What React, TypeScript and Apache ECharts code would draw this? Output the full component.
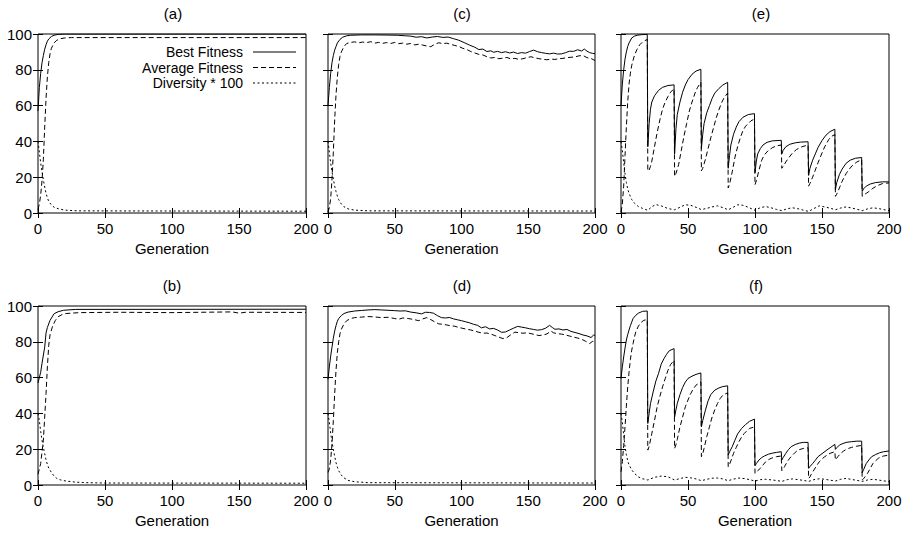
import React, { useEffect, useRef } from "react";
import * as echarts from "echarts";

// ---------- data (generation, value) ----------
const aBest = [[0,57],[1,70],[2,78],[3,84],[4,88],[5,91.5],[6,94],[7,96],[8,97.2],[10,98.6],[12,99.3],[15,99.8],[20,100],[200,100]];
const aAvg = [[0,2],[1,5],[2,10],[3,18],[4,30],[5,48],[6,64],[7,76],[8,84],[9,89],[10,92],[12,95],[14,96.5],[17,97.4],[20,97.8],[25,98],[200,98]];
const aDiv = [[0,40],[1,34],[2,28],[3,23],[4,18.5],[5,14.5],[6,11],[7,8.5],[8,6.5],[10,4.5],[12,3.2],[15,2.4],[20,1.6],[30,1.2],[200,1]];

const bBest = [[0,57],[2,63],[3,68],[5,77],[6,85],[7,88],[9,92],[12,95.7],[15,96.8],[19,97.6],[28,98.1],[200,98.2]];
const bAvg = [[0,6],[2,12],[4,25],[5,38],[6,51],[7,66],[8,78],[9,84],[11,89],[13,92],[15,94],[18,95.2],[21,95.8],[31,96.3],[60,96.5],[100,96.3],[145,96.7],[150,96],[155,96.5],[200,96.4]];
const bDiv = [[0,40],[1,36],[2,30],[3,25],[4,21],[5,17.5],[6,14],[7,11.5],[8,9.5],[10,7],[12,5],[14,3.7],[17,2.8],[21,2.2],[28,1.6],[36,1.3],[50,1.1],[200,1]];

const cBest = [[0,60],[1,70],[2,78],[3,84],[4,88],[5,91],[6,93],[7,95],[9,97],[11,98.2],[14,99],[17,99.3],[25,99.5],[35,99.5],[45,99.4],[52,99.3],[58,99],[62,98.8],[66,98.2],[70,98.5],[74,97.8],[78,98.3],[82,98.6],[86,98.1],[90,98.3],[94,97.4],[98,96.5],[102,95.2],[106,93.8],[110,92.6],[113,91.3],[116,91.6],[119,90.2],[122,90.6],[124,89.8],[127,90.3],[130,89.6],[133,90.1],[136,89.4],[139,89.9],[142,89.1],[145,89.6],[148,89.3],[151,90.2],[154,91],[157,90.1],[160,89.6],[163,89.2],[166,88.9],[169,89.3],[172,88.8],[175,88.9],[178,89.6],[181,90.4],[184,90.3],[187,91.2],[190,90.5],[192,91.6],[194,90.4],[196,89.6],[198,89.2],[200,89]];
const cAvg = [[0,0.5],[1,3],[2,8],[3,19],[4,34],[5,52],[6,66],[7,76],[8,83],[9,87.5],[10,90],[12,93],[14,94.7],[17,95.3],[20,95.6],[23,95.1],[26,95.5],[29,95.2],[32,95.7],[35,94.9],[38,95.3],[41,94.8],[44,95.2],[47,94.7],[50,95.3],[53,94.6],[56,94.9],[59,94.3],[62,94.7],[65,93.9],[68,94.3],[71,93.8],[74,93.3],[77,92.9],[80,94.3],[83,95.1],[86,94.6],[89,94.9],[92,94.2],[95,93.6],[98,93],[101,92],[104,91.3],[107,90.2],[110,89.4],[113,88.6],[116,88.3],[119,87.3],[122,86.6],[125,86.9],[128,86.2],[131,86.5],[134,86.9],[137,86.1],[140,86.4],[143,85.8],[146,86.2],[149,86.8],[152,87.3],[155,86.7],[158,86.2],[161,85.9],[164,85.6],[167,86],[170,85.8],[173,86.2],[176,86.4],[179,86.8],[182,87],[185,87.2],[188,87.8],[191,88],[194,86.8],[197,86.3],[200,85.2]];
const cDiv = [[0,40],[1,34],[2,28],[3,23],[4,19],[5,15],[6,12],[7,9.5],[8,7.5],[10,5],[12,3.5],[15,2.3],[20,1.6],[30,1.2],[200,1.1]];

const dBest = [[0,59],[1,66],[2,72],[3,77],[4,82],[5,86],[6,89],[7,91.5],[8,93],[10,94.7],[12,95.8],[15,96.6],[20,97.2],[25,97.5],[30,97.8],[35,98],[40,97.8],[45,97.6],[50,97.4],[54,97.2],[58,97.3],[62,96.6],[66,96.2],[70,95.6],[73,96.5],[76,96.4],[79,96],[82,94.6],[85,93.5],[88,93.3],[91,93.6],[94,92.8],[97,92.3],[100,91.8],[103,91.2],[106,90.6],[109,89.8],[112,89.2],[115,87.8],[118,88.4],[121,87.2],[124,87.5],[127,86.6],[130,85.3],[133,85.5],[136,86.6],[139,87.6],[142,88.6],[145,88.2],[148,87.8],[151,87.3],[154,86.9],[157,86.5],[160,86.8],[163,87.6],[166,89.2],[168,88],[170,87],[173,87.2],[176,86.6],[179,86.9],[182,85.8],[185,85.2],[188,84.6],[191,83.8],[194,83.3],[197,82.4],[199,83.8],[200,83.5]];
const dAvg = [[0,7],[1,9],[2,14],[3,23],[4,36],[5,51],[6,64],[7,74],[8,80],[9,84.5],[10,87],[12,90],[14,91.8],[17,93],[20,93.5],[25,93.8],[30,94.1],[35,93.9],[40,93.5],[45,93.7],[50,93],[53,92.6],[56,93.3],[60,93],[64,92.5],[68,91.8],[71,92.8],[74,93.5],[77,92.4],[80,91.1],[83,90],[86,89.8],[89,89.4],[92,88.9],[95,88.7],[98,88],[101,87.5],[104,87],[107,86.6],[110,86],[113,85.3],[116,84.8],[119,84.9],[122,84.3],[125,83.5],[128,82.6],[131,81.8],[134,82.3],[137,84],[140,85.4],[143,85.1],[146,84.8],[149,85],[152,84.6],[155,84],[158,83.5],[161,83.8],[164,84.4],[167,86],[169,85],[172,84.5],[175,84.3],[178,83.8],[181,83.2],[184,82.6],[187,82.1],[190,81.4],[193,80.3],[196,79],[198,80.2],[200,80]];
const dDiv = [[0,40],[1,35],[2,29],[3,24],[4,20],[5,16],[6,12.5],[7,10],[8,8],[10,5.5],[12,4],[15,2.6],[20,1.8],[30,1.3],[200,1.1]];

const eBest = [[0,60],[1,72],[2,80],[3,86],[4,90],[5,93],[6,95],[8,97.8],[10,98.8],[12,99.3],[15,99.6],[19.6,99.8],[20,37],[21,50],[22,58],[23,62],[25,65.5],[28,68.5],[31,70.2],[35,71.2],[39.6,71.6],[40,33],[41,47],[42,55],[44,62],[46,67.5],[48,71.5],[50,74.5],[53,77.5],[56,79.3],[59.6,80.3],[60,36],[61,44],[62,50],[64,56],[66,60],[68,64],[70,67],[73,69.5],[76,71.5],[79.6,73],[80,25],[81,32],[82,38],[84,44],[86,48],[88,51],[91,53.5],[95,55],[99.6,55.5],[100,22.5],[101,29],[102,33],[104,36],[106,38],[109,39.5],[113,40.3],[119.6,40.6],[120,33],[121,35],[123,37],[126,38.4],[130,39.2],[134,39.6],[139.6,39.8],[140,21],[141,25],[143,29.5],[145,33],[147,36.5],[150,40.5],[153,43.5],[156,45.5],[159.6,46.8],[160,13],[161,17],[163,21.5],[165,24.5],[168,27.8],[171,29.5],[175,30.6],[179.6,31],[180,12],[181,13.5],[183,15],[186,16.2],[190,17],[195,17.4],[200,17.4]];
const eAvg = [[0,0.5],[1,5],[2,15],[3,32],[4,48],[5,62],[6,72],[7,78],[8,82.5],[10,88],[12,91.5],[14,94],[16,95.5],[19.6,97],[20,23.5],[21,24],[22,26],[23,29],[25,37],[27,45],[29,52],[31,58],[33,62],[35,65],[37,67.5],[39.6,69.5],[40,20.5],[41,22],[43,27],[45,35],[47,43],[49,50],[51,57],[53,62],[55,66.5],[57,70],[59.6,73],[60,23.5],[61,25],[63,30],[65,36],[67,42],[69,47.5],[71,53],[73,57.5],[75,61.5],[77,64.5],[79.6,67],[80,14],[81,16],[83,23],[85,31],[87,37],[89,42],[91,46],[93,48.5],[95,50],[97,51.5],[99.6,52.5],[100,15.8],[101,18],[103,24],[105,29.5],[107,32.5],[110,35],[113,36.5],[116,37.5],[119.6,38],[120,25],[121,26],[123,28.5],[125,30.7],[128,33.5],[131,35.5],[135,37],[139.6,38],[140,15],[141,16.5],[143,20],[145,24],[147,28],[150,33.5],[152,37],[155,41],[157,42.8],[159.6,43.8],[160,9.3],[161,10.5],[163,14],[165,17.7],[168,22],[170,24.2],[173,26.8],[176,28.5],[179.6,29.8],[180,9.3],[181,10],[183,11],[185,12],[188,13.8],[191,15.2],[195,16.4],[200,16.8]];
const eDiv = [[0,40],[1,35],[2,28],[3,22],[4,17],[5,13.5],[6,11],[8,7.5],[10,5.5],[13,3.6],[16,2.6],[20,1.5],[23,3.5],[26,4.7],[30,4],[35,2.5],[40,1.8],[44,3.2],[48,4.6],[52,4.3],[56,3.2],[60,1.9],[64,2.6],[68,3.4],[72,4],[76,3],[80,1.8],[84,3.3],[87,4.6],[91,4.3],[95,3.2],[100,1.5],[104,3],[108,3.6],[112,2.9],[116,2],[120,1.3],[124,2.4],[128,2.9],[132,2.4],[136,1.6],[140,0.9],[144,2.5],[148,4],[152,3.4],[156,2.7],[160,1.8],[164,2.8],[168,3.4],[172,2.8],[176,2.1],[180,1.3],[184,2.3],[188,2.9],[192,2.5],[196,1.9],[200,1.3]];

const fBest = [[0,59.5],[1,66],[2,71.5],[3,76.5],[4,81],[5,84],[6,86.6],[7,89],[8,91],[9,93],[11,94.8],[13,96],[16,97],[19.6,97.2],[20,34.4],[21,40],[22,45.5],[24,52],[26,58],[28,62.3],[30,67.5],[32,70.5],[34,73],[36,75],[39.6,76.2],[40,38],[41,42],[42,45.5],[44,50.5],[46,54.5],[48,57.5],[50,59.5],[53,60.8],[56,61.8],[59.6,62.6],[60,32.5],[61,36],[63,41.8],[65,47],[67,50.5],[70,53],[73,54.2],[76,55],[79.6,55.4],[80,16.7],[81,18.5],[83,21.4],[85,25],[87,28.5],[90,31.6],[93,33.8],[96,35.6],[99.6,36.8],[100,10.8],[101,12],[103,14],[105,15.3],[107,16.2],[110,17.2],[113,17.8],[116,18.2],[119.6,18.6],[120,14],[121,15.3],[123,17.7],[125,19.8],[127,21.4],[130,22.6],[133,23.4],[136,23.8],[139.6,23.8],[140,9.3],[141,10.3],[143,12],[145,13.8],[147,15.8],[150,17.5],[153,19.2],[156,20.8],[159.6,22.7],[160,19.9],[161,20.8],[163,22.3],[165,23],[168,23.8],[172,24.2],[176,24.5],[179.6,24.5],[180,6.9],[181,8.5],[183,12],[185,14],[187,15.8],[190,17],[193,18],[196,18.6],[200,19]];
const fAvg = [[0,7.4],[1,13],[2,22],[3,32.5],[4,44],[5,54.8],[6,63],[7,70],[8,75.3],[9,79],[10,82.5],[11,85.5],[13,88.8],[15,90.8],[17,92],[19.6,92.4],[20,19.5],[21,21.5],[23,28.8],[25,36],[27,43.7],[29,49.5],[31,54.8],[33,59.5],[35,64],[37,67.3],[39.6,69.7],[40,20.4],[41,22.5],[42,25.5],[44,32.5],[46,38],[48,43.7],[50,47.5],[52,51],[54,53.8],[56,55.8],[59.6,57.6],[60,15.8],[61,17.5],[62,20.5],[64,27],[66,32.5],[68,38],[70,42],[72,45.5],[74,48.3],[76,50.2],[79.6,51.5],[80,10.2],[81,11.5],[82,13.5],[84,17.7],[86,21],[88,24.2],[90,26.8],[92,28.8],[94,30.3],[96,31.6],[99.6,32.5],[100,6.5],[101,7.2],[102,8],[104,9.3],[106,11.2],[108,13],[110,14.1],[112,14.9],[116,15.8],[119.6,16.2],[120,8],[121,8.8],[122,10.2],[124,13],[126,15],[128,16.7],[130,18.2],[132,19.5],[136,20.4],[139.6,20.8],[140,3.7],[141,4.5],[142,6],[144,8.4],[146,10.8],[148,13],[150,14.5],[152,15.8],[154,16.8],[156,17.7],[159.6,18.6],[160,14],[161,15],[162,16],[164,17.7],[166,18.9],[168,19.9],[170,20.5],[172,21],[176,21.7],[179.6,22.1],[180,2.8],[181,3.5],[182,4.5],[184,6.5],[186,9.3],[188,12],[190,13.5],[192,14.9],[194,15.7],[196,16.2],[200,16.7]];
const fDiv = [[0,40],[1,35],[2,28],[3,21.4],[4,17],[5,13.5],[6,11.2],[8,8.5],[10,6.5],[13,4.5],[16,3.5],[20,2.8],[25,4.3],[30,5],[35,4.6],[40,2.8],[44,3.6],[48,4.3],[52,4],[56,3.4],[60,2.4],[64,3.2],[68,3.8],[72,3.9],[76,3.4],[80,2.4],[84,3.3],[88,3.9],[93,3.5],[97,2.8],[100,2.2],[104,3],[108,3.2],[113,2.8],[117,2.4],[120,2],[124,3],[128,3.4],[132,3],[136,2.6],[140,2],[144,3],[148,3.5],[152,3.2],[156,2.7],[160,2.2],[164,3.2],[168,3.7],[172,3.1],[176,2.6],[180,2],[184,2.8],[188,3.2],[192,2.8],[196,2.3],[200,1.9]];

const seriesNames = ["Best Fitness", "Average Fitness", "Diversity * 100"];
const panelLabels = ["(a)", "(b)", "(c)", "(d)", "(e)", "(f)"];
const xTicks = { min: 0, max: 200, interval: 50 };
const yTicks = { min: 0, max: 100, interval: 20 };
const xName = "Generation";

const FONT = "'Liberation Sans', Arial, Helvetica, sans-serif";

const panelData = [
  [aBest, aAvg, aDiv],
  [bBest, bAvg, bDiv],
  [cBest, cAvg, cDiv],
  [dBest, dAvg, dDiv],
  [eBest, eAvg, eDiv],
  [fBest, fAvg, fDiv],
];

// layout: [left, top, width, titleX, titleY]
const layout = [
  [38, 34, 268, 173, 13],
  [38, 306, 268, 172, 285],
  [328, 34, 267, 462, 13],
  [328, 306, 267, 462, 285],
  [621, 34, 268, 761, 13],
  [621, 306, 268, 756, 285],
];
const PH = 179;

const dashTypes: any[] = ["solid", [5, 3], [2, 2.5]];
const dashArrays: any[] = [null, [5, 3], [2, 2.5]];

export default function App() {
  const ref = useRef<HTMLDivElement>(null);
  useEffect(() => {
    if (!ref.current) return;
    const chart = echarts.init(ref.current, null, { renderer: "svg" });
    const grid: any[] = [];
    const xAxis: any[] = [];
    const yAxis: any[] = [];
    const series: any[] = [];
    const graphic: any[] = [];
    const tick = { inside: true, length: 5, lineStyle: { color: "#000", width: 1 } };
    layout.forEach(([left, top, width, tx, ty], i) => {
      grid.push({ left, top, width, height: PH, show: true, borderColor: "#000", borderWidth: 1, backgroundColor: "transparent" });
      const showY = i < 2;
      xAxis.push({
        type: "value", gridIndex: i, ...xTicks, position: "bottom",
        axisLine: { show: false }, axisTick: tick, splitLine: { show: false },
        axisLabel: { color: "#000", fontSize: 15, fontFamily: FONT, margin: 8 },
        name: xName, nameLocation: "middle", nameGap: 28,
        nameTextStyle: { color: "#000", fontSize: 15, fontFamily: FONT },
      });
      xAxis.push({
        type: "value", gridIndex: i, ...xTicks, position: "top",
        axisLine: { show: false }, axisTick: tick, splitLine: { show: false },
        axisLabel: { show: false },
      });
      yAxis.push({
        type: "value", gridIndex: i, ...yTicks, position: "left",
        axisLine: { show: false }, axisTick: tick, splitLine: { show: false },
        axisLabel: { show: showY, color: "#000", fontSize: 15, fontFamily: FONT, margin: 6 },
      });
      yAxis.push({
        type: "value", gridIndex: i, ...yTicks, position: "right",
        axisLine: { show: false }, axisTick: tick, splitLine: { show: false },
        axisLabel: { show: false },
      });
      panelData[i].forEach((d, k) => {
        series.push({
          type: "line", name: seriesNames[k], xAxisIndex: 2 * i, yAxisIndex: 2 * i,
          data: d, symbol: "none", showSymbol: false, clip: true,
          lineStyle: { color: "#000", width: 1, type: dashTypes[k] },
          itemStyle: { color: "#000" },
          emphasis: { disabled: true },
        });
      });
      graphic.push({
        type: "text", x: tx, y: ty,
        style: { text: panelLabels[i], fill: "#000", font: `15px ${FONT}`, align: "center", verticalAlign: "middle" },
      });
    });
    // key inside panel (a)
    const keyY = [52, 67.5, 83];
    seriesNames.forEach((nm, k) => {
      graphic.push({
        type: "text", x: 243, y: keyY[k],
        style: { text: nm, fill: "#000", font: `14px ${FONT}`, lineHeight: 14, align: "right", verticalAlign: "middle" },
      });
      graphic.push({
        type: "line",
        shape: { x1: 253, y1: keyY[k], x2: 296, y2: keyY[k] },
        style: { stroke: "#000", lineWidth: 1, lineDash: dashArrays[k] },
      });
    });
    chart.setOption({
      animation: false,
      grid, xAxis, yAxis, series, graphic,
    });
    return () => chart.dispose();
  }, []);
  return <div ref={ref} style={{ position: "fixed", left: 0, top: 0, width: 908, height: 534, background: "#fff" }} />;
}
